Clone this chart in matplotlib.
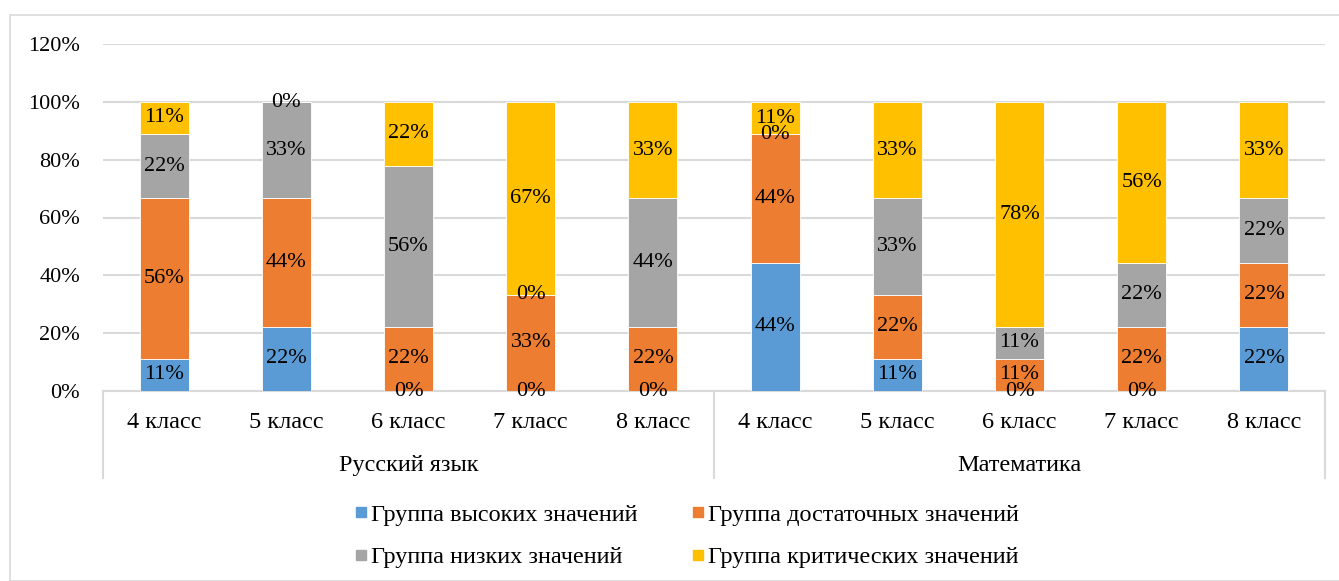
import matplotlib
matplotlib.use('Agg')
from matplotlib import pyplot as plt
from matplotlib.lines import Line2D
from matplotlib.patches import Rectangle
import numpy as np

plt.rcParams['font.family'] = ['Liberation Serif', 'DejaVu Serif']

# data
classes = ['4 класс', '5 класс', '6 класс', '7 класс', '8 класс'] * 2
groups = ['Русский язык', 'Математика']
series_names = ['Группа высоких значений', 'Группа достаточных значений',
                'Группа низких значений', 'Группа критических значений']
high = [11.1, 22.2, 0, 0, 0, 44.4, 11.1, 0, 0, 22.2]
suff = [55.6, 44.4, 22.2, 33.3, 22.2, 44.4, 22.2, 11.1, 22.2, 22.2]
low = [22.2, 33.3, 55.6, 0, 44.4, 0, 33.3, 11.1, 22.2, 22.2]
crit = [11.1, 0, 22.2, 66.7, 33.3, 11.1, 33.3, 77.8, 55.6, 33.3]
colors = ['#5B9BD5', '#ED7D31', '#A5A5A5', '#FFC000']
yticks = [0, 20, 40, 60, 80, 100, 120]

FS = 16     # numbers
FT = 17.5   # cyrillic text
fig = plt.figure(figsize=(13.39, 5.81), dpi=100)
ax = fig.add_axes([103/1339, 1-391/581, (1325-103)/1339, (391-44)/581])

x = np.arange(len(classes))
bottom = np.zeros(len(classes))
handles = []
for vals, name, col in zip([high, suff, low, crit], series_names, colors):
    vals = np.array(vals, dtype=float)
    bars = ax.bar(x, vals, 0.4, bottom=bottom, color=col, edgecolor='white',
                  linewidth=0.6, label=name, zorder=3)
    ax.bar_label(bars, labels=[f'{round(v)}%' for v in vals], label_type='center',
                 fontsize=FS, color='black', zorder=4)
    bottom += vals
    handles.append(Line2D([], [], marker='s', linestyle='none', color=col,
                          markersize=7, label=name))

ax.set_xlim(-0.5, len(classes) - 0.5)
ax.set_ylim(0, 120)
ax.set_yticks(yticks)
ax.set_yticklabels([f'{t}%' for t in yticks], fontsize=FS)
ax.yaxis.grid(True, color='#d9d9d9', linewidth=1.5, zorder=0)
ax.tick_params(axis='y', length=0, pad=16.5)
ax.set_xticks(x)
ax.set_xticklabels(classes, fontsize=FT)
ax.tick_params(axis='x', length=0, pad=15)
for s in ['top', 'right', 'left']:
    ax.spines[s].set_visible(False)
ax.spines['bottom'].set_color('#d9d9d9')
ax.spines['bottom'].set_linewidth(1.5)

# category group separators and labels
trans = ax.get_xaxis_transform()
for xv in [-0.5, 4.5, 9.5]:
    ax.add_line(Line2D([xv, xv], [0, -0.25], transform=trans, color='#d9d9d9',
                       linewidth=1.5, clip_on=False))
for i, g in enumerate(groups):
    ax.text(i * 5 + 2, -0.215, g, transform=trans, ha='center', va='center',
            fontsize=FT)

order = [0, 2, 1, 3]
fig.legend([handles[i] for i in order], [series_names[i] for i in order],
           ncol=2, loc='center', bbox_to_anchor=(0.513, 1 - 536/581),
           frameon=False, fontsize=FT, handlelength=0.5, handletextpad=0.2,
           columnspacing=2.2, labelspacing=0.85, markerscale=1.0)

fig.patches.append(Rectangle((10/1339, 0), 1.0, 1 - 15/581, transform=fig.transFigure,
                             fill=False, edgecolor='#d9d9d9', linewidth=1.2))

fig.savefig('out.png', dpi=100)
